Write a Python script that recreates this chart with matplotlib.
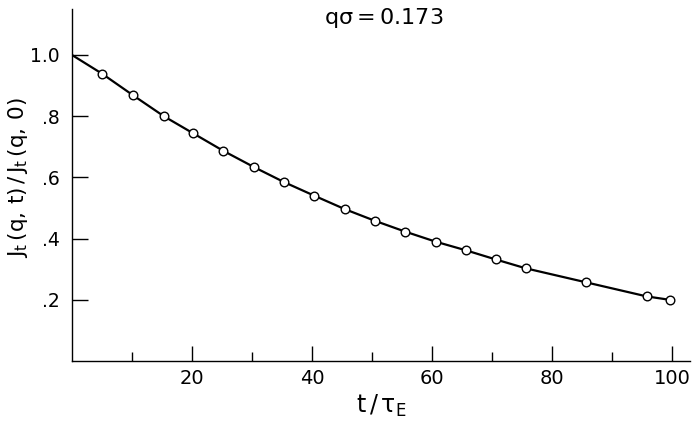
import matplotlib.pyplot as plt
from matplotlib.ticker import FixedLocator

# data
t_points = [5.0, 10.2, 15.3, 20.2, 25.2, 30.3, 35.3, 40.4, 45.5, 50.5,
            55.5, 60.6, 65.6, 70.6, 75.6, 85.7, 95.8, 99.6]
j_points = [0.939, 0.868, 0.800, 0.744, 0.687, 0.634, 0.585, 0.540, 0.496, 0.458,
            0.423, 0.390, 0.362, 0.332, 0.303, 0.257, 0.211, 0.200]

# fitted curve, starts at 1.0 and runs through the points
t_curve = [0.0] + t_points
j_curve = [1.0] + j_points

x_ticks = [20, 40, 60, 80, 100]
x_minor = [10, 30, 50, 70, 90]
y_ticks = [0.2, 0.4, 0.6, 0.8, 1.0]
y_labels = ['.2', '.4', '.6', '.8', '1.0']

fig = plt.figure(figsize=(6.94, 4.24), dpi=100)
ax = fig.add_axes([0.1037, 0.1486, 0.8905, 0.830])

ax.plot(t_curve, j_curve, color='black', lw=1.6, zorder=2)
ax.plot(t_points, j_points, 'o', ms=6.2, mfc='white', mec='black', mew=1.0, zorder=3)

ax.set_xlim(0, 103)
ax.set_ylim(0, 1.15)
ax.spines['top'].set_visible(False)
ax.spines['right'].set_visible(False)
ax.spines['left'].set_linewidth(1.0)
ax.spines['bottom'].set_linewidth(1.0)

ax.xaxis.set_major_locator(FixedLocator(x_ticks))
ax.xaxis.set_minor_locator(FixedLocator(x_minor))
ax.yaxis.set_major_locator(FixedLocator(y_ticks))
ax.set_yticklabels(y_labels)

ax.tick_params(axis='y', direction='in', length=11.5, width=1.0, pad=9, labelsize=13.5)
ax.tick_params(axis='x', which='major', direction='in', length=10.8, width=1.0, pad=6, labelsize=14)
ax.tick_params(axis='x', which='minor', direction='in', length=6.5, width=1.0)

ax.set_xlabel(r'$\mathsf{t\,/\,\tau_E}$', fontsize=17, labelpad=3)
ax.set_ylabel(r'$\mathsf{J_t\,(q,\,t)\,/\,J_t\,(q,\,0)}$', fontsize=15.5)
ax.yaxis.set_label_coords(-0.068, 0.52)

ax.text(52, 1.12, r'$\mathsf{q\sigma = 0.173}$', fontsize=16, ha='center', va='center',
        clip_on=False)

fig.savefig('out.png', dpi=100)
plt.close(fig)
